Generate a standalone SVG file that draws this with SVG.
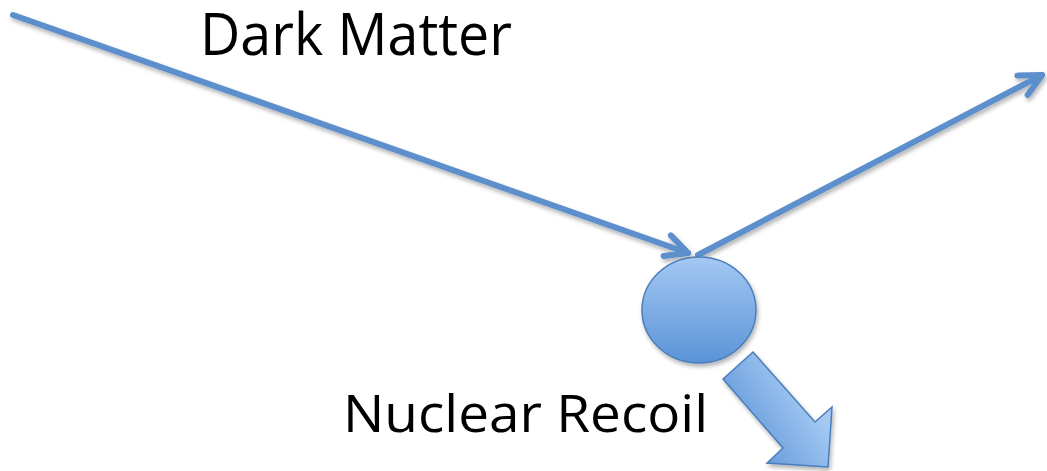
<svg xmlns="http://www.w3.org/2000/svg" width="1047" height="471" viewBox="0 0 1047 471">
  <style>
    .label { font-family: "Open Sans", "Noto Sans", "Liberation Sans", sans-serif; fill: #000; }
    .ray { fill: none; stroke: #5b8fcb; stroke-width: 6; stroke-linecap: round; }
  </style>
  <defs>
    <filter id="shadow" x="-20%" y="-20%" width="140%" height="140%">
      <feDropShadow dx="1.5" dy="3" stdDeviation="2" flood-color="#000" flood-opacity="0.3"/>
    </filter>
    <marker id="chevron" viewBox="-26 -14 30 28" markerUnits="userSpaceOnUse" markerWidth="30" markerHeight="28" refX="0" refY="0" orient="auto">
      <path d="M -22 -11 L 0 0 L -22 11" fill="none" stroke="#5b8fcb" stroke-width="6" stroke-linecap="round" stroke-linejoin="round"/>
    </marker>
    <linearGradient id="ballFill" x1="0" y1="0" x2="0" y2="1">
      <stop offset="0" stop-color="#a3c8f3"/>
      <stop offset="1" stop-color="#5b93d8"/>
    </linearGradient>
    <linearGradient id="recoilFill" gradientUnits="userSpaceOnUse" x1="740" y1="420" x2="800" y2="380">
      <stop offset="0" stop-color="#6a9edc"/>
      <stop offset="1" stop-color="#a6caf4"/>
    </linearGradient>
  </defs>

  <!-- incoming and scattered dark matter paths -->
  <g id="connectors" filter="url(#shadow)">
    <line class="ray" x1="13" y1="15" x2="688" y2="253" marker-end="url(#chevron)"/>
    <line class="ray" x1="698" y1="255" x2="1042" y2="75" marker-end="url(#chevron)"/>
  </g>

  <!-- nucleus -->
  <g id="nucleus" filter="url(#shadow)">
    <ellipse cx="699" cy="310" rx="57" ry="53" fill="url(#ballFill)" stroke="#4a7ebb" stroke-width="1.5"/>
  </g>

  <!-- recoil direction -->
  <g id="recoil" filter="url(#shadow)">
    <polygon points="753,352 723,379 783,448 767,463 828,467 832,407 815,422" fill="url(#recoilFill)" stroke="#4a7ebb" stroke-width="1.5" stroke-linejoin="miter"/>
  </g>

  <g id="label-dark-matter">
    <text class="label" x="200" y="55" font-size="59" textLength="312" lengthAdjust="spacingAndGlyphs">Dark Matter</text>
  </g>
  <g id="label-nuclear-recoil">
    <text class="label" x="343" y="432" font-size="51" textLength="365" lengthAdjust="spacingAndGlyphs">Nuclear Recoil</text>
  </g>
</svg>
